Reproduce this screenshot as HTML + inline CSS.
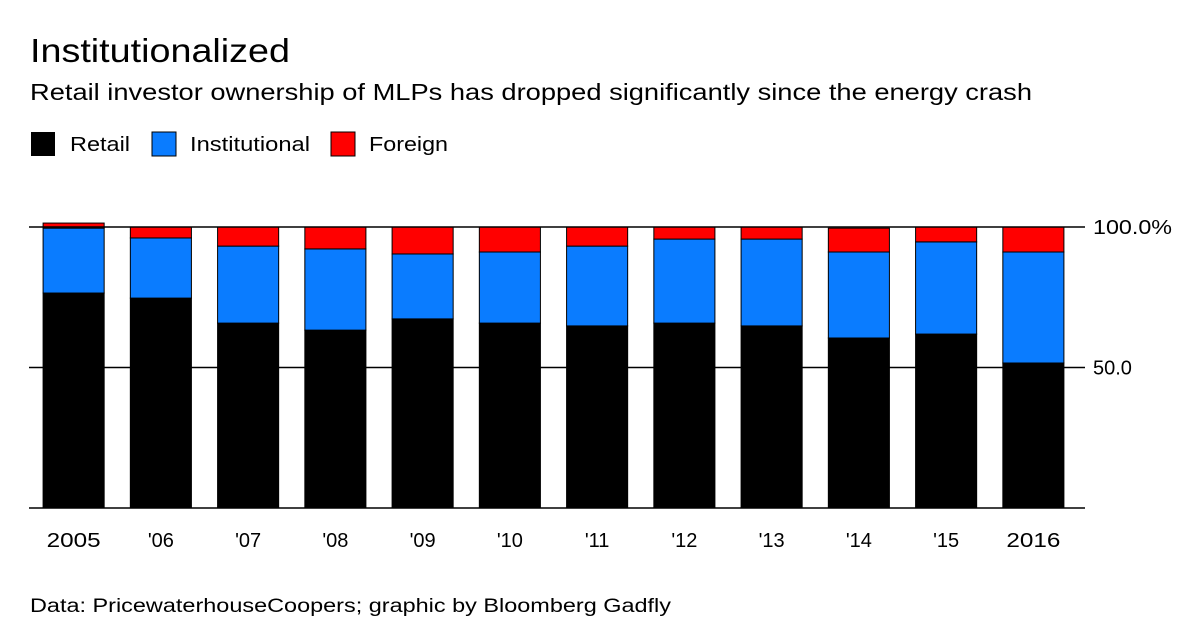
<!DOCTYPE html>
<html><head><meta charset="utf-8"><style>
body{margin:0;background:#fff;font-family:"Liberation Sans",sans-serif;}
svg text{font-family:"Liberation Sans",sans-serif;}
</style></head><body>
<svg width="1200" height="637" xmlns="http://www.w3.org/2000/svg">
<text x="30" y="62" font-size="33" textLength="260" lengthAdjust="spacingAndGlyphs" fill="#000">Institutionalized</text>
<text x="30" y="100" font-size="23" textLength="1002" lengthAdjust="spacingAndGlyphs" fill="#000">Retail investor ownership of MLPs has dropped significantly since the energy crash</text>
<g>
<rect x="31" y="132" width="24" height="24" fill="#000"/>
<text x="70" y="151" font-size="20" textLength="60" lengthAdjust="spacingAndGlyphs">Retail</text>
<rect x="152" y="132" width="24" height="24" fill="#0a7cff" stroke="#000"/>
<text x="190" y="151" font-size="20" textLength="120" lengthAdjust="spacingAndGlyphs">Institutional</text>
<rect x="331" y="132" width="24" height="24" fill="#ff0000" stroke="#000"/>
<text x="369" y="151" font-size="20" textLength="79" lengthAdjust="spacingAndGlyphs">Foreign</text>
</g>
<g id="plot"></g>
<text x="30" y="612" font-size="19" textLength="641" lengthAdjust="spacingAndGlyphs">Data: PricewaterhouseCoopers; graphic by Bloomberg Gadfly</text>
</svg>
<script>
const categories=["2005","'06","'07","'08","'09","'10","'11","'12","'13","'14","'15","2016"];
const retail=[76.5,74.7,65.8,63.3,67.3,65.8,64.8,65.8,64.8,60.5,61.9,51.6];
const institutional=[23.1,21.4,27.4,28.9,23.1,25.3,28.4,29.9,30.9,30.6,32.8,39.5];
const foreign=[1.8,3.9,6.8,7.8,9.6,8.9,6.8,4.3,4.3,8.5,5.3,8.9];
const tickValues=[0,50,100];
const tickLabels=["","50.0","100.0%"];
const NS="http://www.w3.org/2000/svg";
const g=document.getElementById('plot');
const x0=30,x1=1077,y0=508,y100=227;
const y=v=>y0-(y0-y100)*v/100;
const step=(x1-x0)/categories.length;
const bw=step*0.7;
const bx=i=>x0+step*i+(step-bw)/2;
function mk(tag,attrs){const e=document.createElementNS(NS,tag);for(const k in attrs)e.setAttribute(k,attrs[k]);g.appendChild(e);return e;}
categories.forEach((c,i)=>{
  const segs=[[0,retail[i],'#000','retail'],[retail[i],retail[i]+institutional[i],'#0a7cff','institutional'],[retail[i]+institutional[i],retail[i]+institutional[i]+foreign[i],'#ff0000','foreign']];
  segs.forEach(s=>{
    const r=mk('rect',{x:bx(i),y:y(s[1]),width:bw,height:y(s[0])-y(s[1]),fill:s[2],stroke:'#000','stroke-width':1});
    
    
  });
  const t=mk('text',{x:bx(i)+bw/2,y:547,'font-size':20,'text-anchor':'middle'});
  if(c.length===4){t.setAttribute('textLength',54);t.setAttribute('lengthAdjust','spacingAndGlyphs');}
  t.textContent=c;
  
  
});
tickValues.forEach((v,i)=>{
  const l=mk('line',{x1:x0-1,x2:x1+8,y1:y(v),y2:y(v),stroke:'#000','stroke-width':1.5});
  
  
  const t=mk('text',{x:1093,y:y(v)+7,'font-size':20});
  if(tickLabels[i]==="100.0%"){t.setAttribute('textLength',79);t.setAttribute('lengthAdjust','spacingAndGlyphs');}
  t.textContent=tickLabels[i];
  
  
});
</script>
</body></html>
